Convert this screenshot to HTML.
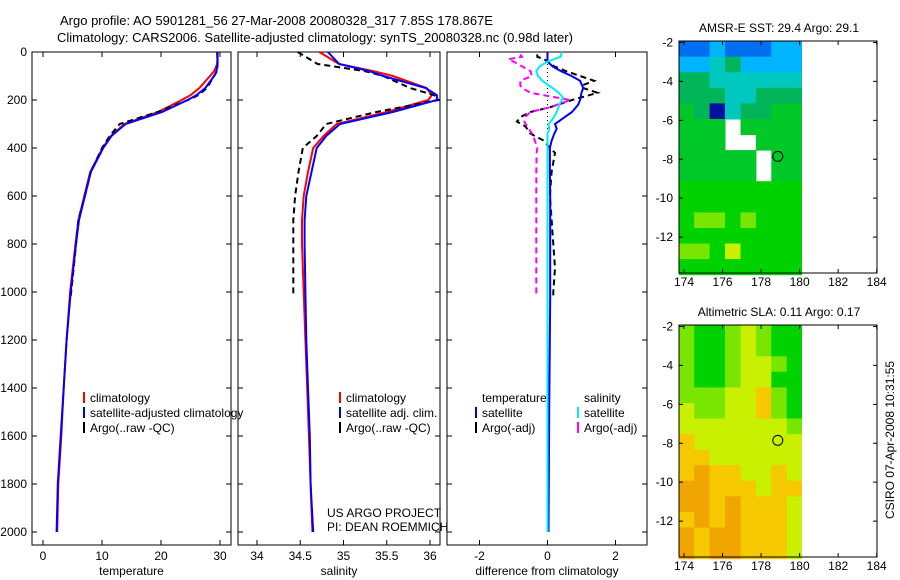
<!DOCTYPE html>
<html><head><meta charset="utf-8"><style>
html,body{margin:0;padding:0;background:#fff;}
svg{display:block;font-family:"Liberation Sans",sans-serif;}
text{font-size:12px;fill:#000;}
</style></head><body>
<svg id="fig" width="900" height="580" viewBox="0 0 900 580" xmlns="http://www.w3.org/2000/svg">
<text x="60" y="25" style="font-size:13px">Argo profile: AO 5901281_56 27-Mar-2008 20080328_317 7.85S 178.867E</text>
<text x="57" y="42" style="font-size:13px">Climatology: CARS2006. Satellite-adjusted climatology: synTS_20080328.nc (0.98d later)</text>
<g id="g"></g>
</svg>
<script>
// ---- profile data ----
const depthTicks=[0,200,400,600,800,1000,1200,1400,1600,1800,2000];
const tempTicks=[0,10,20,30];
const salTicks=[34,34.5,35,35.5,36];
const diffTicks=[-2,0,2];
const depths=[0,50,80,100,150,180,200,250,300,350,400,500,600,700,800,1000,1200,1400,1600,1800,2000];
const tempClim=[29.6,29.5,29.0,28.3,26.5,25.0,23.5,19.5,13.8,11.5,10.1,8.0,7.0,6.0,5.5,4.6,4.0,3.5,3.1,2.6,2.4];
const tempSat =[29.6,29.6,29.4,29.0,27.5,26.0,24.5,20.2,14.0,11.6,10.2,8.1,7.1,6.1,5.6,4.7,4.0,3.5,3.0,2.5,2.3];
const argoDepths=[0,50,80,100,150,180,200,250,300,350,400,500,600,700,800,900,1020];
const tempArgo=[29.5,29.6,29.5,29.0,27.8,26.3,24.6,19.4,13.0,11.3,10.0,8.1,7.1,6.0,5.6,5.2,4.7];
const salClim=[34.72,34.95,35.35,35.57,35.96,36.02,35.98,35.5,34.92,34.77,34.65,34.59,34.54,34.52,34.52,34.54,34.56,34.58,34.60,34.62,34.64];
const salSat =[34.82,34.95,35.30,35.46,35.95,36.08,36.08,35.57,34.96,34.80,34.69,34.63,34.57,34.55,34.55,34.56,34.57,34.59,34.61,34.62,34.65];
const salArgo=[34.47,34.7,35.25,35.46,35.77,36.05,36.1,35.38,34.8,34.69,34.53,34.48,34.44,34.42,34.42,34.42,34.42];
const diffDepths=[0,20,40,60,80,100,120,150,170,190,200,220,250,280,300,320,340,370,400,500,600,700,800,900,1000,1020,1500,2000];
const dTempSat=[0,0,0,0.15,0.4,0.71,0.96,1.05,1.0,0.97,0.96,0.9,0.72,0.42,0.22,0.27,0.2,0.12,0.07,0.07,0.08,0.08,0.08,0.08,0.08,0.08,0.05,0.03];
const dSalSat =[0.43,0.38,0,-0.23,-0.33,-0.28,-0.15,0.15,0.33,0.46,0.42,0.35,0.27,0.15,0.03,0.05,0.0,0.0,0.0,0.0,0,0,0,0,0,0,0,0];
const argoDiffDepths=[10,20,30,40,60,80,100,120,140,150,170,200,230,250,270,290,310,340,370,400,420,500,600,700,800,900,1000,1020];
const dTempArgo=[-0.3,-0.3,-0.1,0,0.2,0.55,0.96,1.37,1.0,1.05,1.47,0.72,0.08,-0.5,-0.78,-0.9,-0.65,-0.5,-0.1,0.07,0.22,0.12,0.07,0.12,0.17,0.22,0.17,0.17];
const dSalArgo=[-0.8,-0.75,-1.15,-1.0,-0.75,-0.5,-0.46,-0.8,-0.8,-0.75,-0.5,0.67,0.08,-0.5,-0.65,-0.68,-0.6,-0.45,-0.37,-0.3,-0.32,-0.33,-0.33,-0.33,-0.33,-0.33,-0.33,-0.33];
// ---- map data (0.8 deg cells, 8 cols x 15 rows, colour class) ----
const lonTicks=[174,176,178,180,182,184];
const latTicks=[-2,-4,-6,-8,-10,-12];
const sstGrid=[
[1,1,2,1,1,1,2,2],[2,2,3,4,2,2,2,2],[4,4,3,3,3,3,3,3],[4,4,4,3,3,4,4,4],[5,4,0,3,4,4,5,5],
[5,5,5,-1,5,5,5,5],[5,5,5,-1,-1,5,5,5],[5,5,5,5,5,-1,5,5],[5,5,5,5,5,-1,5,5],[6,6,6,6,6,6,6,6],
[6,6,6,6,6,6,6,6],[6,7,7,6,7,6,6,6],[6,6,6,6,6,6,6,6],[7,7,6,8,6,6,6,6],[6,6,6,6,6,6,6,6]];
const slaGrid=[
[7,6,6,7,8,7,6,6],[7,6,6,7,8,7,6,6],[7,6,6,7,8,8,7,6],[7,6,6,7,8,8,6,6],[7,7,7,8,8,9,7,6],
[8,7,7,8,8,9,7,6],[8,8,8,8,8,8,8,7],[9,8,8,8,8,8,8,8],[9,9,8,8,8,8,8,8],[9,10,9,9,8,8,9,8],
[10,10,9,9,9,8,9,9],[10,10,9,10,9,9,9,8],[9,10,9,10,9,9,9,8],[10,9,10,10,9,9,9,8],[10,9,10,10,9,9,9,8]];
const palette={0:"#0010a0",1:"#0070f0",2:"#00b4ff",3:"#00c8be",4:"#00b45a",5:"#00c828",6:"#00d200",7:"#78e600",8:"#c8f000",9:"#f5c800",10:"#f0a500"};
const argoLon=178.867, argoLat=-7.85;

const NS="http://www.w3.org/2000/svg";
const G=document.getElementById('g');
function mk(tag,attrs,parent){const e=document.createElementNS(NS,tag);for(const k in attrs)e.setAttribute(k,attrs[k]);(parent||G).appendChild(e);return e;}
const yD=d=>52+d*0.24;
function panel(name,x0,x1,xs,ticks,fmt,label,showY){
  const g=mk('g',{});
  
  
  mk('rect',{x:x0,y:52,width:x1-x0,height:493,fill:'none',stroke:'#000','stroke-width':1},g);
  depthTicks.forEach(d=>{
    const y=yD(d);
    const l=mk('path',{d:`M${x0},${y}h5M${x1},${y}h-5`,stroke:'#000'},g);
    
    
    if(showY){const t=mk('text',{x:x0-5,y:y+4,'text-anchor':'end'},g);t.textContent=d;
      
      }
  });
  ticks.forEach(v=>{
    const x=xs(v);
    const l=mk('path',{d:`M${x},52v5M${x},545v-5`,stroke:'#000'},g);
    
    
    const t=mk('text',{x:x,y:560,'text-anchor':'middle'},g);t.textContent=fmt(v);
    
    
  });
  const t=mk('text',{x:(x0+x1)/2,y:575,'text-anchor':'middle'},g);t.textContent=label;
  
  
  return g;
}
function line(g,name,xs,vals,ds,color,dash,w){
  const p=mk('path',{d:vals.map((v,i)=>(i?'L':'M')+xs(v).toFixed(1)+','+yD(ds[i]).toFixed(1)).join(''),fill:'none',stroke:color,'stroke-width':w||2,'stroke-dasharray':dash||'none'},g);
  
  
}
function legend(g,x,y,items){
  items.forEach((it,i)=>{
    if(it[1]){const m=mk('rect',{x:x,y:y+i*15-10,width:2,height:11,fill:it[1]},g);
      
      }
    const t=mk('text',{x:x+7,y:y+i*15},g);t.textContent=it[0];
    
    
  });
}
// panel 1
const xT=v=>43+v*5.9;
const p1=panel('temperature-panel',32,231,xT,tempTicks,v=>v,'temperature',true);
line(p1,'temp-climatology',xT,tempClim,depths,'#f00');
line(p1,'temp-argo',xT,tempArgo,argoDepths,'#000','6,4');
line(p1,'temp-satellite',xT,tempSat,depths,'#00f');
legend(p1,83,402,[['climatology','#f00'],['satellite-adjusted climatology','#00f'],['Argo(..raw -QC)','#000']]);
// panel 2
const xS=v=>257+(v-34)*86.5;
const p2=panel('salinity-panel',238,440,xS,salTicks,v=>v,'salinity',false);
line(p2,'sal-climatology',xS,salClim,depths,'#f00');
line(p2,'sal-argo',xS,salArgo,argoDepths,'#000','6,4');
line(p2,'sal-satellite',xS,salSat,depths,'#00f');
legend(p2,339,402,[['climatology','#f00'],['satellite adj. clim.','#00f'],['Argo(..raw -QC)','#000']]);
const c1=mk('text',{x:327,y:517},p2);c1.textContent='US ARGO PROJECT';


const c2=mk('text',{x:327,y:531},p2);c2.textContent='PI: DEAN ROEMMICH';


// panel 3
const xDf=v=>547.5+v*34;
const p3=panel('difference-panel',447,647,xDf,diffTicks,v=>v,'difference from climatology',false);
const zl=mk('path',{d:`M${xDf(0)},60V150`,stroke:'#000','stroke-dasharray':'1,3'},p3);


line(p3,'diff-temp-argo',xDf,dTempArgo,argoDiffDepths,'#000','6,4');
line(p3,'diff-sal-argo',xDf,dSalArgo,argoDiffDepths,'#f0f','6,4');
line(p3,'diff-temp-satellite',xDf,dTempSat,diffDepths,'#00f');
line(p3,'diff-sal-satellite',xDf,dSalSat,diffDepths,'#0ee');
legend(p3,475,402,[['temperature',null],['satellite','#00f'],['Argo(-adj)','#000']]);
legend(p3,577,402,[['salinity',null],['satellite','#0ee'],['Argo(-adj)','#f0f']]);
// maps
function map(name,top,grid,title){
  const g=mk('g',{});
  
  
  const xL=v=>684+(v-174)*19.27;
  const yL=v=>top+1.5+(-2-v)*19.46;
  const lat0=-1.93, lon0=173.73, cs=0.8;
  grid.forEach((row,r)=>row.forEach((c,k)=>{
    if(c<0)return;
    const x=xL(lon0+k*cs), y=yL(lat0-r*cs);
    const w=Math.min(xL(lon0+(k+1)*cs),xL(180.1))-x, h=yL(lat0-(r+1)*cs)-y;
    const cell=mk('rect',{x:x.toFixed(1),y:y.toFixed(1),width:(w+0.5).toFixed(1),height:(h+0.5).toFixed(1),fill:palette[c]},g);
    
    
  }));
  mk('rect',{x:679,y:top,width:198,height:232,fill:'none',stroke:'#000'},g);
  lonTicks.forEach(v=>{const x=xL(v);
    mk('path',{d:`M${x},${top}v4M${x},${top+232}v-4`,stroke:'#000'},g);
    const t=mk('text',{x:x,y:top+245,'text-anchor':'middle'},g);t.textContent=v;
    
    });
  latTicks.forEach(v=>{const y=yL(v);
    mk('path',{d:`M679,${y}h4M877,${y}h-4`,stroke:'#000'},g);
    const t=mk('text',{x:673,y:y+4,'text-anchor':'end'},g);t.textContent=v;
    
    });
  const c=mk('circle',{cx:xL(argoLon),cy:yL(argoLat),r:5,fill:'none',stroke:'#000'},g);
  
  
  const t=mk('text',{x:779,y:top-9,'text-anchor':'middle'},g);t.textContent=title;
  
  
}
map('sst-map',41,sstGrid,'AMSR-E SST: 29.4  Argo: 29.1');
map('sla-map',325,slaGrid,'Altimetric SLA: 0.11  Argo: 0.17');
const st=mk('text',{x:0,y:0,transform:'translate(894,440) rotate(-90)','text-anchor':'middle'});
st.textContent='CSIRO 07-Apr-2008 10:31:55';


</script>
</body></html>
